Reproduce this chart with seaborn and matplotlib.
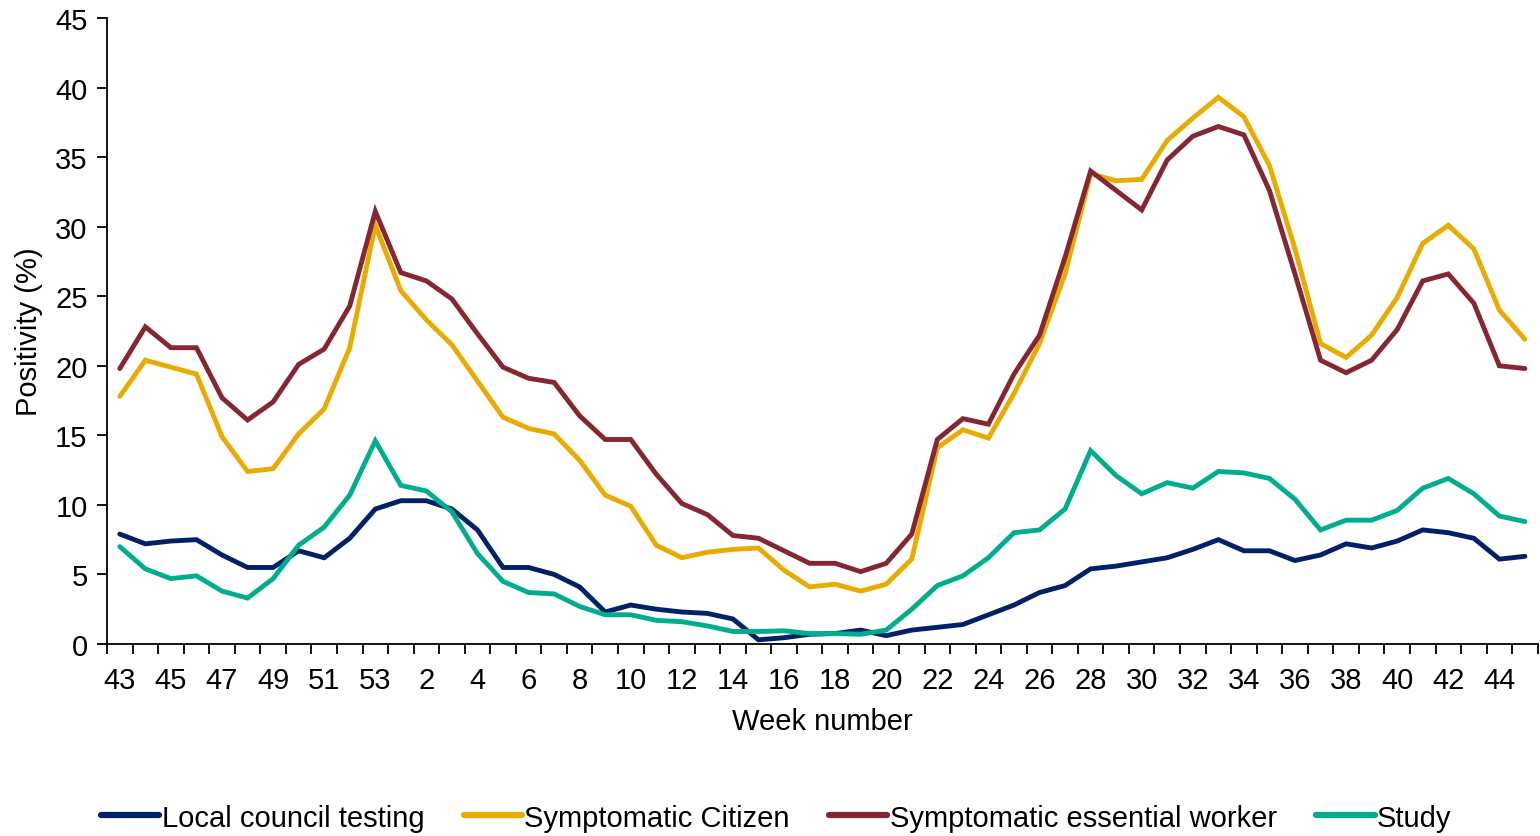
import pandas as pd
import matplotlib
matplotlib.use("Agg")
import matplotlib.pyplot as plt
import seaborn as sns

# week numbers: 2020 weeks 43-53 then 2021 weeks 1-45
weeks = list(range(43, 54)) + list(range(1, 46))

local_council = [7.9, 7.2, 7.4, 7.5, 6.4, 5.5, 5.5, 6.7, 6.2, 7.6, 9.7,
                 10.3, 10.3, 9.7, 8.2, 5.5, 5.5, 5.0, 4.1, 2.3, 2.8,
                 2.5, 2.3, 2.2, 1.8, 0.3, 0.45, 0.7, 0.75, 1.0, 0.6,
                 1.0, 1.2, 1.4, 2.1, 2.8, 3.7, 4.2, 5.4, 5.6, 5.9,
                 6.2, 6.8, 7.5, 6.7, 6.7, 6.0, 6.4, 7.2, 6.9, 7.4,
                 8.2, 8.0, 7.6, 6.1, 6.3]

symptomatic_citizen = [17.8, 20.4, 19.9, 19.4, 14.9, 12.4, 12.6, 15.1, 16.9, 21.3, 30.1,
                       25.4, 23.3, 21.5, 18.9, 16.3, 15.5, 15.1, 13.2, 10.7, 9.9,
                       7.1, 6.2, 6.6, 6.8, 6.9, 5.3, 4.1, 4.3, 3.8, 4.3,
                       6.1, 14.1, 15.4, 14.8, 18.0, 21.6, 26.6, 33.8, 33.3, 33.4,
                       36.2, 37.8, 39.3, 37.9, 34.4, 28.4, 21.6, 20.6, 22.2, 24.9,
                       28.8, 30.1, 28.4, 24.0, 21.9]

symptomatic_worker = [19.8, 22.8, 21.3, 21.3, 17.7, 16.1, 17.4, 20.1, 21.2, 24.3, 31.1,
                      26.7, 26.1, 24.8, 22.3, 19.9, 19.1, 18.8, 16.4, 14.7, 14.7,
                      12.2, 10.1, 9.3, 7.8, 7.6, 6.7, 5.8, 5.8, 5.2, 5.8,
                      7.9, 14.7, 16.2, 15.8, 19.4, 22.2, 27.8, 34.0, 32.6, 31.2,
                      34.8, 36.5, 37.2, 36.6, 32.6, 26.6, 20.4, 19.5, 20.4, 22.6,
                      26.1, 26.6, 24.5, 20.0, 19.8]

study = [7.0, 5.4, 4.7, 4.9, 3.8, 3.3, 4.7, 7.1, 8.4, 10.7, 14.6,
         11.4, 11.0, 9.5, 6.5, 4.5, 3.7, 3.6, 2.7, 2.1, 2.1,
         1.7, 1.6, 1.3, 0.9, 0.9, 0.95, 0.75, 0.75, 0.7, 1.0,
         2.5, 4.2, 4.9, 6.2, 8.0, 8.2, 9.7, 13.9, 12.1, 10.8,
         11.6, 11.2, 12.4, 12.3, 11.9, 10.4, 8.2, 8.9, 8.9, 9.6,
         11.2, 11.9, 10.8, 9.2, 8.8]

series_names = ["Local council testing", "Symptomatic Citizen",
                "Symptomatic essential worker", "Study"]
series_values = [local_council, symptomatic_citizen, symptomatic_worker, study]
colors = ["#002168", "#EAAB00", "#862633", "#00AE8E"]

rows = []
for name, vals in zip(series_names, series_values):
    for i, v in enumerate(vals):
        rows.append({"pos": i, "week": weeks[i], "series": name, "value": v})
df = pd.DataFrame(rows)

sns.set_style("ticks")
plt.rcParams["font.family"] = ["Liberation Sans", "DejaVu Sans"]
plt.rcParams["text.color"] = "black"
plt.rcParams["axes.labelcolor"] = "black"
plt.rcParams["xtick.color"] = "black"
plt.rcParams["ytick.color"] = "black"
fs = 21

fig = plt.figure(figsize=(15.4, 8.37), dpi=100)
ax = fig.add_axes([0.0695, 0.2294, 0.929, 0.7479])

sns.lineplot(data=df, x="pos", y="value", hue="series", hue_order=series_names,
             palette=colors, linewidth=3.5, ax=ax, legend=True,
             solid_capstyle="round", solid_joinstyle="miter")

ax.set_xlim(-0.5, len(weeks) - 0.5)
ax.set_ylim(0, 45)
ax.set_yticks(range(0, 46, 5))

# category-boundary ticks with labels on every other week
n = len(weeks)
ax.set_xticks([i - 0.5 for i in range(n + 1)])
ax.set_xticklabels([])
ax.set_xticks(list(range(0, n, 2)), minor=True)
ax.set_xticklabels([str(weeks[i]) for i in range(0, n, 2)], minor=True)
ax.tick_params(axis="x", which="major", length=7, width=1.3, color="black", direction="out")
ax.tick_params(axis="x", which="minor", length=0, labelsize=fs, pad=16, labelcolor="black")
ax.tick_params(axis="y", length=7, width=1.3, color="black", labelsize=fs, pad=7,
               labelcolor="black")

for side in ["top", "right"]:
    ax.spines[side].set_visible(False)
for side in ["left", "bottom"]:
    ax.spines[side].set_color("black")
    ax.spines[side].set_linewidth(1.3)

ax.set_xlabel("Week number", fontsize=fs, labelpad=9, color="black")
ax.set_ylabel("Positivity (%)", fontsize=fs, labelpad=9, color="black")

handles, labels = ax.get_legend_handles_labels()
ax.get_legend().remove()
for h in handles:
    h.set_linewidth(4.5)
    h.set_solid_capstyle("round")
fig.legend(handles, labels, loc="center", bbox_to_anchor=(0.504, 0.022), ncol=4,
           frameon=False, fontsize=fs, handlelength=2.0, handletextpad=0.08,
           columnspacing=1.35, labelcolor="black")

fig.savefig("out.png", dpi=100)
